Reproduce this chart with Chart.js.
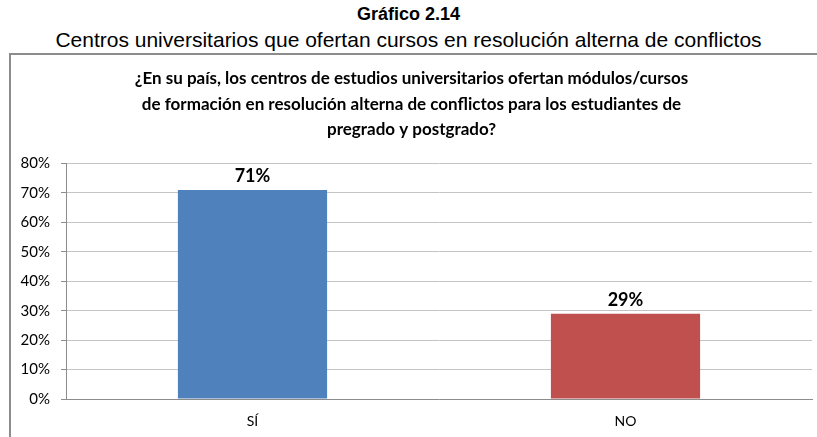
<!DOCTYPE html>
<html>
<head>
<meta charset="utf-8">
<script src="https://cdn.jsdelivr.net/npm/chart.js@4"></script>
<style>
    body { margin: 0; background: #fff; width: 817px; height: 437px; overflow: hidden; position: relative; }
    .titulo { position: absolute; left: 0; width: 817px; text-align: center; font-family: "Liberation Sans", Arial, sans-serif; color: #000; }
    #t1 { top: 4px; font-size: 18px; font-weight: bold; }
    #t2 { top: 28px; font-size: 21px; }
    .caixa { position: absolute; left: 9px; top: 53px; width: 820px; height: 400px; border-left: 2px solid #8c8c8c; border-top: 2px solid #8c8c8c; }
    #grafico { position: absolute; left: 11px; top: 55px; }
</style>
</head>
<body>
<div class="titulo" id="t1">Gráfico 2.14</div>
<div class="titulo" id="t2">Centros universitarios que ofertan cursos en resolución alterna de conflictos</div>
<div class="caixa"></div>
<canvas id="grafico" width="806" height="382"></canvas>
<script>
const categorias = ['SÍ', 'NO'];
const porcentagens = [71, 29];
const cores = ['#4f81bd', '#c0504d'];
const ticksY = [0, 10, 20, 30, 40, 50, 60, 70, 80];
const pergunta = [
    '¿En su país, los centros de estudios universitarios ofertan módulos/cursos',
    'de formación en resolución alterna de conflictos para los estudiantes de',
    'pregrado y postgrado?'
];

const rotulos = {
    id: 'rotulos',
    afterDatasetsDraw(chart) {
        const ctx = chart.ctx;
        const meta = chart.getDatasetMeta(0);
        ctx.save();
        ctx.font = 'bold 18px Lato';
        ctx.fillStyle = '#000';
        ctx.textAlign = 'center';
        ctx.textBaseline = 'alphabetic';
        meta.data.forEach((bar, i) => {
            ctx.fillText(porcentagens[i] + '%', bar.x, bar.y - 8);
        });
        ctx.restore();
    }
};

new Chart(document.getElementById('grafico').getContext('2d'), {
    type: 'bar',
    data: {
        labels: categorias,
        datasets: [{
            data: porcentagens,
            backgroundColor: cores,
            borderWidth: 0,
            barPercentage: 0.4,
            categoryPercentage: 1
        }]
    },
    options: {
        responsive: false,
        animation: false,
        layout: { padding: { left: 0, right: 5, top: 0, bottom: 0 } },
        plugins: {
            legend: { display: false },
            tooltip: { enabled: false },
            title: {
                display: true,
                text: pergunta,
                color: '#000',
                font: { family: 'Lato', size: 17, weight: 'bold', lineHeight: 1.5 },
                padding: { top: 11, bottom: 21 }
            }
        },
        scales: {
            x: {
                grid: { display: false, drawTicks: false },
                border: { display: true, color: '#8c8c8c', width: 1 },
                ticks: { color: '#000', font: { family: 'Lato', size: 14 }, padding: 14 },
                afterFit(scale) { scale.height = 38; }
            },
            y: {
                min: 0,
                max: 80,
                afterBuildTicks(scale) { scale.ticks = ticksY.map(v => ({ value: v })); },
                grid: { color: '#c4c4c4', lineWidth: 1, tickLength: 5, tickColor: '#8c8c8c' },
                border: { display: true, color: '#8c8c8c', width: 1 },
                ticks: {
                    color: '#000',
                    font: { family: 'Lato', size: 15 },
                    padding: 11,
                    callback: v => v + '%'
                },
                afterFit(scale) { scale.width = 55; }
            }
        }
    },
    plugins: [rotulos]
});
</script>
</body>
</html>
